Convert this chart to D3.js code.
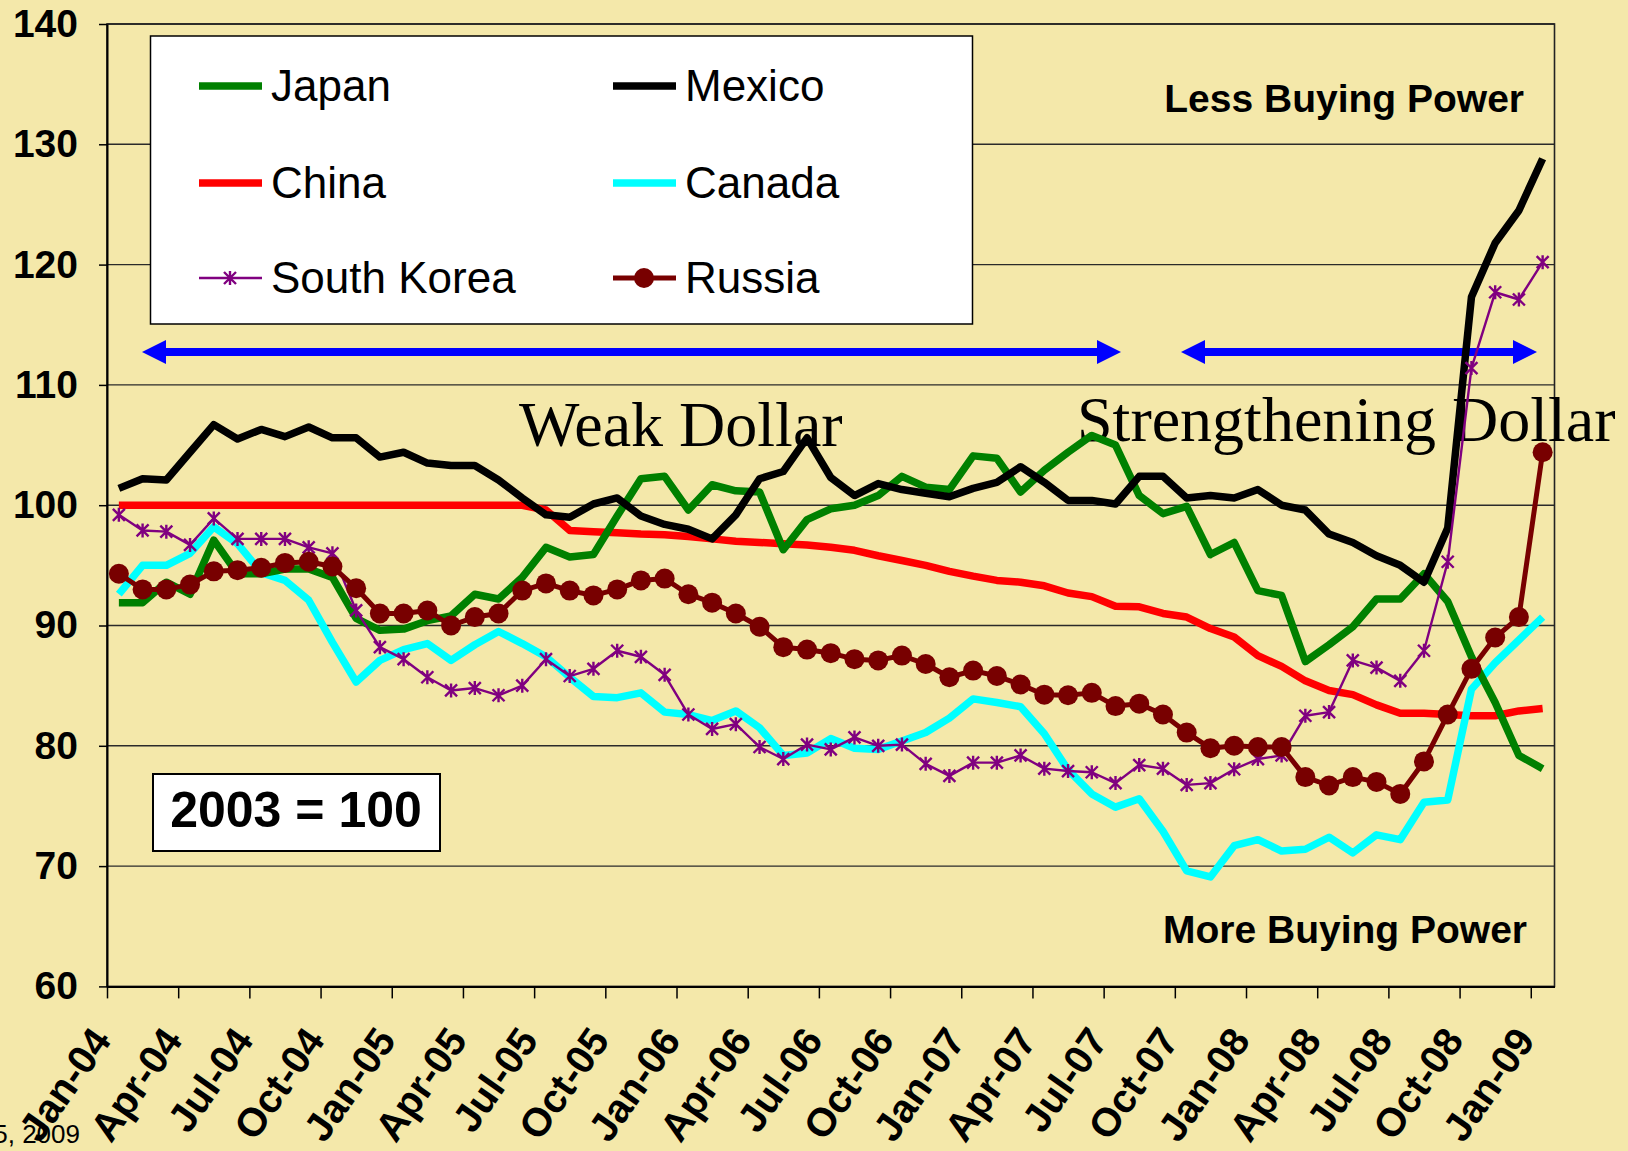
<!DOCTYPE html>
<html lang="en">
<head>
<meta charset="utf-8">
<title>Dollar buying power</title>
<style>
  body { margin: 0; background: #f4e8aa; }
  svg { display: block; }
</style>
</head>
<body>
<script src="https://d3js.org/d3.v7.min.js"></script>
<div id="chart"></div>
<script>
// monthly index values, Jan-04 .. Jan-09 (61 months), 2003 = 100
var tickLabels = ["Jan-04","Apr-04","Jul-04","Oct-04","Jan-05","Apr-05","Jul-05","Oct-05",
  "Jan-06","Apr-06","Jul-06","Oct-06","Jan-07","Apr-07","Jul-07","Oct-07",
  "Jan-08","Apr-08","Jul-08","Oct-08","Jan-09"];
var yTicks = [60, 70, 80, 90, 100, 110, 120, 130, 140];

var japan = [91.9,91.9,93.6,92.6,97.1,94.3,94.3,94.7,94.7,94.0,90.6,89.6,89.7,90.4,90.8,92.6,92.2,94.0,96.5,95.7,
  95.9,99.1,102.2,102.4,99.6,101.7,101.2,101.1,96.3,98.8,99.7,100.0,100.8,102.4,101.5,101.3,104.1,103.9,101.1,102.9,
  104.4,105.8,105.0,100.8,99.3,99.9,95.9,96.9,92.9,92.5,87.0,88.4,89.9,92.2,92.2,94.3,92.0,87.4,83.6,79.2,78.1];
var mexico = [101.4,102.2,102.1,104.4,106.7,105.5,106.3,105.7,106.5,105.6,105.6,104.0,104.4,103.5,103.3,103.3,102.1,100.6,99.2,99.0,
  100.1,100.6,99.1,98.4,98.0,97.2,99.2,102.2,102.8,105.6,102.3,100.8,101.8,101.3,101.0,100.7,101.4,101.9,103.2,101.9,
  100.4,100.4,100.1,102.4,102.4,100.6,100.8,100.6,101.3,100.0,99.6,97.6,96.9,95.8,95.0,93.6,98.1,117.3,121.8,124.5,128.8];
var china = [100,100,100,100,100,100,100,100,100,100,100,100,100,100,100,100,100,100,99.6,97.9,
  97.8,97.7,97.6,97.55,97.4,97.2,97.0,96.9,96.8,96.7,96.5,96.25,95.8,95.4,95.0,94.5,94.1,93.75,93.6,93.3,
  92.7,92.4,91.6,91.55,91.0,90.7,89.75,89.05,87.5,86.6,85.4,84.6,84.25,83.4,82.7,82.7,82.6,82.5,82.5,82.9,83.1];
var canada = [92.6,95.0,95.0,96.0,98.2,96.8,94.4,93.75,92.1,88.6,85.3,87.1,88.0,88.5,87.1,88.4,89.5,88.5,87.4,85.7,
  84.1,84.0,84.4,82.8,82.6,82.1,82.9,81.5,79.2,79.4,80.6,79.8,79.7,80.4,81.1,82.3,83.9,83.6,83.25,81.0,
  78.0,76.0,74.9,75.6,72.9,69.6,69.1,71.7,72.2,71.25,71.4,72.4,71.1,72.6,72.2,75.3,75.5,84.7,86.9,88.8,90.7];
var southKorea = [99.2,97.9,97.8,96.7,98.9,97.2,97.2,97.2,96.5,96.0,91.25,88.2,87.2,85.7,84.6,84.8,84.2,85.0,87.2,85.8,
  86.4,87.9,87.4,85.9,82.6,81.4,81.8,79.9,78.9,80.1,79.7,80.7,80.0,80.1,78.5,77.5,78.6,78.6,79.2,78.1,
  77.9,77.8,76.9,78.4,78.1,76.75,76.9,78.05,78.9,79.2,82.5,82.8,87.1,86.5,85.4,87.9,95.3,111.4,117.7,117.1,120.2];
var russia = [94.3,93.0,93.0,93.4,94.5,94.6,94.8,95.2,95.3,94.9,93.1,91.0,91.0,91.25,90.0,90.7,91.0,92.9,93.5,92.9,
  92.5,93.0,93.75,93.9,92.6,91.9,91.0,89.9,88.2,88.0,87.7,87.2,87.1,87.5,86.8,85.7,86.25,85.8,85.1,84.25,
  84.2,84.4,83.3,83.5,82.6,81.1,79.8,80.0,79.9,79.9,77.4,76.7,77.4,77.0,76.0,78.7,82.6,86.4,89.0,90.7,104.4];

var W = 1628, H = 1151;
var plotL = 107, plotR = 1554.5, plotT = 24, plotB = 986.4;
var bg = "#f4e8aa";

var svg = d3.select("#chart").append("svg")
    .attr("width", W).attr("height", H)
    .style("font-family", "'Liberation Sans', Arial, sans-serif");

svg.append("rect").attr("width", W).attr("height", H).attr("fill", bg);

var x = d3.scaleLinear().domain([0, japan.length]).range([plotL, plotR]);
var y = d3.scaleLinear().domain([60, 140]).range([plotB, plotT]);

// grid
svg.append("g").selectAll("line")
    .data(yTicks.slice(1))
    .enter().append("line")
    .attr("x1", plotL).attr("x2", plotR)
    .attr("y1", function(d) { return y(d); }).attr("y2", function(d) { return y(d); })
    .attr("stroke", "#2a2a2a").attr("stroke-width", 1.4);

svg.append("rect")
    .attr("x", plotL).attr("y", plotT)
    .attr("width", plotR - plotL).attr("height", plotB - plotT)
    .attr("fill", "none").attr("stroke", "#222").attr("stroke-width", 1.6);

// axes
var yAxis = svg.append("g")
    .attr("transform", "translate(" + plotL + ",0)")
    .call(d3.axisLeft(y).tickValues(yTicks).tickSizeInner(8).tickSizeOuter(0).tickPadding(21));
yAxis.select(".domain").attr("stroke", "#000").attr("stroke-width", 2);
yAxis.selectAll(".tick line").attr("stroke", "#000").attr("stroke-width", 1.5);
yAxis.selectAll("text")
    .style("font-family", "'Liberation Sans', Arial, sans-serif")
    .style("font-size", "39px").style("font-weight", "bold").attr("fill", "#000");

var xAxis = svg.append("g")
    .attr("transform", "translate(0," + plotB + ")")
    .call(d3.axisBottom(x)
        .tickValues(d3.range(0, japan.length, 3))
        .tickFormat(function(d, i) { return tickLabels[i]; })
        .tickSizeInner(12).tickSizeOuter(0));
xAxis.select(".domain").attr("stroke", "#000").attr("stroke-width", 2);
xAxis.selectAll(".tick line").attr("stroke", "#000").attr("stroke-width", 1.5);
xAxis.selectAll("text")
    .attr("x", 0).attr("y", 0).attr("dy", 0)
    .attr("transform", "translate(5,54) rotate(-55)")
    .attr("text-anchor", "end")
    .style("font-family", "'Liberation Sans', Arial, sans-serif")
    .style("font-size", "40px").style("font-weight", "bold").attr("fill", "#000");

// blue arrows
function arrow(x1, x2, yy) {
    var g = svg.append("g").attr("fill", "#0000ff");
    g.append("line").attr("x1", x1 + 20).attr("x2", x2 - 20).attr("y1", yy).attr("y2", yy)
        .attr("stroke", "#0000ff").attr("stroke-width", 8);
    g.append("path").attr("d", "M" + x1 + "," + yy + "L" + (x1 + 24) + "," + (yy - 12) + "L" + (x1 + 24) + "," + (yy + 12) + "Z");
    g.append("path").attr("d", "M" + x2 + "," + yy + "L" + (x2 - 24) + "," + (yy - 12) + "L" + (x2 - 24) + "," + (yy + 12) + "Z");
}
arrow(142, 1121, 352);
arrow(1181, 1537, 352);

svg.append("text").attr("x", 519).attr("y", 446)
    .style("font-family", "'Liberation Serif', 'Times New Roman', serif")
    .style("font-size", "64px").text("Weak Dollar");
svg.append("text").attr("x", 1077).attr("y", 441)
    .style("font-family", "'Liberation Serif', 'Times New Roman', serif")
    .style("font-size", "64px").text("Strengthening Dollar");

svg.append("text").attr("x", 1524).attr("y", 112).attr("text-anchor", "end")
    .style("font-size", "39px").style("font-weight", "bold").text("Less Buying Power");
svg.append("text").attr("x", 1527).attr("y", 943).attr("text-anchor", "end")
    .style("font-size", "39px").style("font-weight", "bold").text("More Buying Power");

// series
var line = d3.line()
    .x(function(d, i) { return x(i + 0.5); })
    .y(function(d) { return y(d); });

var starPath = "M0,-7V7M-6,-6L6,6M-6,6L6,-6";

var series = [
    {name: "China", data: china, color: "#ff0000", width: 7.5},
    {name: "Canada", data: canada, color: "#00ffff", width: 7.5},
    {name: "Japan", data: japan, color: "#008000", width: 7.5},
    {name: "Mexico", data: mexico, color: "#000000", width: 7.5},
    {name: "South Korea", data: southKorea, color: "#800080", width: 2.4, marker: "star"},
    {name: "Russia", data: russia, color: "#780000", width: 5, marker: "circle"}
];

series.forEach(function(s) {
    svg.append("path").datum(s.data)
        .attr("fill", "none").attr("stroke", s.color)
        .attr("stroke-width", s.width).attr("stroke-linejoin", "round")
        .attr("d", line);
    if (s.marker === "circle") {
        svg.append("g").selectAll("circle").data(s.data).enter().append("circle")
            .attr("cx", function(d, i) { return x(i + 0.5); })
            .attr("cy", function(d) { return y(d); })
            .attr("r", 10).attr("fill", s.color);
    }
    if (s.marker === "star") {
        svg.append("g").selectAll("path").data(s.data).enter().append("path")
            .attr("transform", function(d, i) { return "translate(" + x(i + 0.5) + "," + y(d) + ")"; })
            .attr("d", starPath).attr("stroke", s.color).attr("stroke-width", 2.4).attr("fill", "none");
    }
});

// legend
var legend = svg.append("g");
legend.append("rect").attr("x", 150.5).attr("y", 36).attr("width", 822).attr("height", 288)
    .attr("fill", "#fff").attr("stroke", "#000").attr("stroke-width", 1.5);
var legendItems = [
    {s: series[2], col: 0, row: 0},
    {s: series[3], col: 1, row: 0},
    {s: series[0], col: 0, row: 1},
    {s: series[1], col: 1, row: 1},
    {s: series[4], col: 0, row: 2},
    {s: series[5], col: 1, row: 2}
];
var colX = [199, 613], rowY = [86, 183, 278];
legendItems.forEach(function(it) {
    var lx = colX[it.col], ly = rowY[it.row];
    legend.append("line").attr("x1", lx).attr("x2", lx + 63).attr("y1", ly).attr("y2", ly)
        .attr("stroke", it.s.color).attr("stroke-width", it.s.width);
    if (it.s.marker === "star") {
        legend.append("path").attr("transform", "translate(" + (lx + 31) + "," + ly + ")")
            .attr("d", starPath).attr("stroke", it.s.color).attr("stroke-width", 2.4);
    }
    if (it.s.marker === "circle") {
        legend.append("circle").attr("cx", lx + 31).attr("cy", ly).attr("r", 10).attr("fill", it.s.color);
    }
    legend.append("text").attr("x", lx + 72).attr("y", ly).attr("dy", "0.35em")
        .style("font-size", "44px").text(it.s.name);
});

// base note
svg.append("rect").attr("x", 153).attr("y", 774).attr("width", 287).attr("height", 77)
    .attr("fill", "#fff").attr("stroke", "#000").attr("stroke-width", 2);
svg.append("text").attr("x", 296).attr("y", 827).attr("text-anchor", "middle")
    .style("font-size", "50px").style("font-weight", "bold").text("2003 = 100");

svg.append("text").attr("x", 80).attr("y", 1143).attr("text-anchor", "end")
    .style("font-size", "26px").text("5, 2009");
</script>
</body>
</html>
